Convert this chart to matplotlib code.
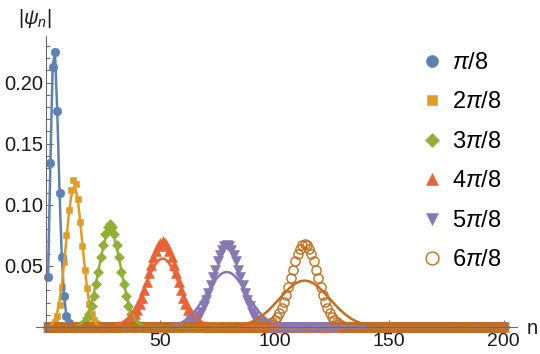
import numpy as np
import matplotlib
matplotlib.use("Agg")
import matplotlib.pyplot as plt

plt.rcParams['font.family'] = ['Liberation Sans', 'DejaVu Sans']
plt.rcParams['mathtext.fontset'] = 'custom'
plt.rcParams['mathtext.rm'] = 'Liberation Sans'
plt.rcParams['mathtext.it'] = 'Liberation Sans:italic'

# ---------------- data ----------------
n_max = 200
labels = [r"$\pi$/8", r"2$\pi$/8", r"3$\pi$/8", r"4$\pi$/8", r"5$\pi$/8", r"6$\pi$/8"]
colors = ["#5E81B5", "#E19C24", "#8FB032", "#EB6235", "#8778B3", "#C56E1A"]

# markers: first n and |psi_n| values (zero elsewhere, n = 1..200)
blue_start = 1
blue_pts = [0.041, 0.134, 0.213, 0.225, 0.177, 0.110, 0.057, 0.025, 0.009, 0.003, 0.001]

orange_start = 3
orange_pts = [0.002, 0.004, 0.009, 0.018, 0.033, 0.053, 0.075, 0.096, 0.112, 0.120, 0.117,
              0.105, 0.086, 0.066, 0.047, 0.032, 0.019, 0.011, 0.006, 0.003, 0.001]

green_start = 15
green_pts = [0.001, 0.002, 0.004, 0.007, 0.011, 0.017, 0.025, 0.035, 0.045, 0.057, 0.067,
             0.076, 0.082, 0.084, 0.082, 0.076, 0.067, 0.057, 0.045, 0.035, 0.025, 0.017,
             0.011, 0.007, 0.004, 0.002, 0.001]

red_start = 32
red_pts = [0.001, 0.001, 0.002, 0.003, 0.004, 0.005, 0.008, 0.011, 0.014, 0.019, 0.024,
           0.030, 0.037, 0.044, 0.051, 0.057, 0.062, 0.066, 0.069, 0.070, 0.069, 0.066,
           0.062, 0.057, 0.051, 0.044, 0.037, 0.030, 0.024, 0.019, 0.014, 0.011, 0.008,
           0.005, 0.004, 0.003, 0.002, 0.001, 0.001]

purple_start = 62
purple_pts = [0.001, 0.002, 0.003, 0.004, 0.006, 0.009, 0.012, 0.017, 0.022, 0.028, 0.034,
              0.041, 0.047, 0.054, 0.059, 0.063, 0.066, 0.067, 0.066, 0.063, 0.059, 0.054,
              0.047, 0.041, 0.034, 0.028, 0.022, 0.017, 0.012, 0.009, 0.006, 0.004, 0.003,
              0.002, 0.001]

brown_start = 96
brown_pts = [0.0009, 0.0015, 0.0024, 0.0037, 0.0055, 0.0080, 0.0113, 0.0154, 0.0204, 0.0262,
             0.0328, 0.0398, 0.0469, 0.0536, 0.0595, 0.064, 0.067, 0.068, 0.067, 0.064,
             0.0595, 0.0536, 0.0469, 0.0398, 0.0328, 0.0262, 0.0204, 0.0154, 0.0113, 0.0080,
             0.0055, 0.0037, 0.0024, 0.0015, 0.0009]

# smooth curves: first n, step in n, values (zero outside)
orange_line_start, orange_line_step = 3, 1
orange_line = [0.0031, 0.0065, 0.0123, 0.0216, 0.035, 0.052, 0.072, 0.091, 0.106, 0.114,
               0.113, 0.104, 0.087, 0.068, 0.049, 0.032, 0.019, 0.011, 0.0056, 0.0027, 0.0011]

green_line_start, green_line_step = 13, 1
green_line = [0.0007, 0.0013, 0.0023, 0.0039, 0.0062, 0.0098, 0.0144, 0.0206, 0.0281, 0.0368,
              0.0463, 0.0559, 0.0647, 0.0718, 0.0764, 0.078, 0.0764, 0.0718, 0.0647, 0.0559,
              0.0463, 0.0368, 0.0281, 0.0206, 0.0144, 0.0098, 0.0062, 0.0039, 0.0023, 0.0013,
              0.0007]

red_line_start, red_line_step = 29, 1
red_line = [0.0008, 0.0011, 0.0016, 0.0022, 0.0031, 0.0043, 0.0058, 0.0076, 0.0098, 0.0125,
            0.0156, 0.0191, 0.0230, 0.0273, 0.0317, 0.0362, 0.0407, 0.0449, 0.0486, 0.0517,
            0.054, 0.0555, 0.056, 0.0555, 0.054, 0.0517, 0.0486, 0.0449, 0.0407, 0.0362,
            0.0317, 0.0273, 0.0230, 0.0191, 0.0156, 0.0125, 0.0098, 0.0076, 0.0058, 0.0043,
            0.0031, 0.0022, 0.0016, 0.0011, 0.0008]

purple_line_start, purple_line_step = 53, 1
purple_line = [0.0006, 0.0008, 0.0011, 0.0015, 0.0020, 0.0026, 0.0034, 0.0044, 0.0056, 0.0070,
               0.0086, 0.0105, 0.0127, 0.0151, 0.0178, 0.0206, 0.0236, 0.0267, 0.0298, 0.0328,
               0.0357, 0.0383, 0.0406, 0.0425, 0.0439, 0.0447, 0.045, 0.0447, 0.0439, 0.0425,
               0.0406, 0.0383, 0.0357, 0.0328, 0.0298, 0.0267, 0.0236, 0.0206, 0.0178, 0.0151,
               0.0127, 0.0105, 0.0086, 0.0070, 0.0056, 0.0044, 0.0034, 0.0026, 0.0020, 0.0015,
               0.0011, 0.0008, 0.0006]

brown_line_start, brown_line_step = 79, 2
brown_line = [0.0003, 0.0006, 0.0009, 0.0015, 0.0023, 0.0035, 0.0051, 0.0073, 0.0100, 0.0132,
              0.0169, 0.0210, 0.0252, 0.0292, 0.0328, 0.0356, 0.0374, 0.038, 0.0374, 0.0356,
              0.0328, 0.0292, 0.0252, 0.0210, 0.0169, 0.0132, 0.0100, 0.0073, 0.0051, 0.0035,
              0.0023, 0.0015, 0.0009, 0.0006, 0.0003]

x_ticks = [50, 100, 150, 200]
y_ticks = [0.05, 0.10, 0.15, 0.20]
y_tick_labels = ["0.05", "0.10", "0.15", "0.20"]

# ---------------- build series ----------------
n = np.arange(1, n_max + 1)

def full(start, vals):
    y = np.zeros(n_max)
    y[start - 1:start - 1 + len(vals)] = vals
    return y

def curve(start, step, vals):
    xs = np.arange(start, start + step * len(vals), step)
    xx = np.concatenate([np.arange(1, start), xs, np.arange(xs[-1] + 1, n_max + 1)])
    yy = np.concatenate([np.zeros(start - 1), vals, np.zeros(n_max - xs[-1])])
    return xx, yy

pts = [full(blue_start, blue_pts), full(orange_start, orange_pts), full(green_start, green_pts),
       full(red_start, red_pts), full(purple_start, purple_pts), full(brown_start, brown_pts)]
curves = [(n, full(blue_start, blue_pts)),
          curve(orange_line_start, orange_line_step, orange_line),
          curve(green_line_start, green_line_step, green_line),
          curve(red_line_start, red_line_step, red_line),
          curve(purple_line_start, purple_line_step, purple_line),
          curve(brown_line_start, brown_line_step, brown_line)]

markers = ['o', 's', 'D', '^', 'v', 'o']
msizes = [6.2, 4.8, 5.4, 6.6, 6.6, 6.6]

# ---------------- figure ----------------
W, H = 540, 354
fig = plt.figure(figsize=(W / 100, H / 100), dpi=100)
ax = fig.add_axes([36 / W, 1 - 332 / H, (517 - 36) / W, (332 - 36) / H])
ax.set_xlim(-4.28, 205.8)
ax.set_ylim(-0.0041, 0.2381)

for i in range(6):
    c = colors[i]
    if i == 5:
        ax.plot(n, pts[i], linestyle='none', marker=markers[i], ms=msizes[i], mfc='none',
                mec=c, mew=1.0, label=labels[i], zorder=2)
    else:
        ax.plot(n, pts[i], linestyle='none', marker=markers[i], ms=msizes[i], mfc=c,
                mec=c, mew=0.4, label=labels[i], zorder=2)
for i in range(6):
    xx, yy = curves[i]
    ax.plot(xx, yy, color=colors[i], lw=1.8, zorder=2.1, solid_joinstyle='round')

for s in ['top', 'right']:
    ax.spines[s].set_visible(False)
ax.spines['left'].set_position(('data', 0))
ax.spines['bottom'].set_position(('data', 0))
axis_col = '#6b6b6b'
for s in ['left', 'bottom']:
    ax.spines[s].set_color(axis_col)
    ax.spines[s].set_linewidth(0.8)
    ax.spines[s].set_zorder(3)

ax.set_xticks(x_ticks)
ax.set_xticks(np.arange(10, 201, 10), minor=True)
ax.set_yticks(y_ticks)
ax.set_yticklabels(y_tick_labels)
ax.set_yticks(np.arange(0.01, 0.235, 0.01), minor=True)
ax.tick_params(which='both', direction='in', color=axis_col, width=0.8, labelsize=14.5,
               labelcolor='#1a1a1a')
ax.tick_params(axis='x', labelsize=14)
ax.tick_params(which='major', length=5)
ax.tick_params(which='minor', length=3)
ax.tick_params(axis='x', pad=4.5)
ax.tick_params(axis='y', pad=2)

fig.text(18 / W, 1 - 18 / H, r"$|\psi_n|$", fontsize=14.5, ha='left', va='center', color='#1a1a1a')
fig.text(527 / W, 1 - 329 / H, "n", fontsize=14.5, ha='left', va='center', color='#1a1a1a')

leg = ax.legend(loc='upper left', bbox_to_anchor=(420 / W, 1 - 52 / H),
                bbox_transform=fig.transFigure, frameon=False, fontsize=17,
                markerscale=1.4, handlelength=1.0, handletextpad=0.35,
                labelspacing=0.74, borderpad=0, borderaxespad=0)

fig.savefig("out.png", dpi=100)
